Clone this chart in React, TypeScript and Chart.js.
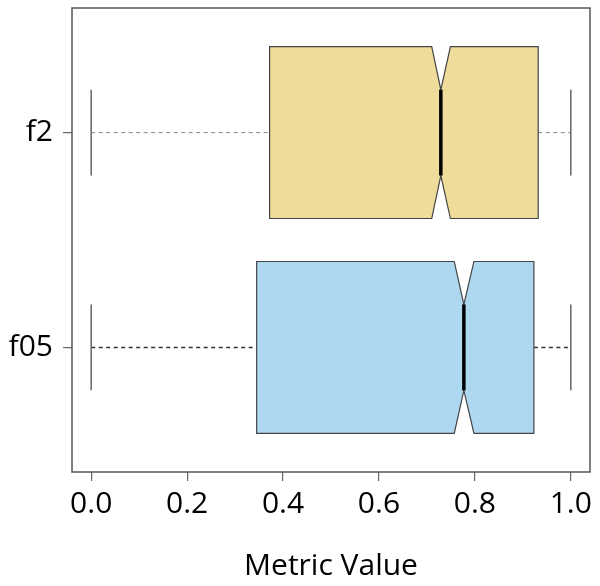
import React, { useEffect, useRef } from "react";
import { Chart, registerables } from "chart.js";

Chart.register(...registerables);

// ---- data ----
const categories = ["f2", "f05"];
const whiskerLow = [0.0, 0.0];
const q1 = [0.372, 0.345];
const notchLow = [0.71, 0.757];
const median = [0.729, 0.777];
const notchHigh = [0.749, 0.798];
const q3 = [0.932, 0.923];
const whiskerHigh = [1.0, 1.0];
const xTicks = [0, 0.2, 0.4, 0.6, 0.8, 1.0];

// ---- style ----
const fills = ["#EFDC9A", "#ADD8F0"];
const whiskerColors = ["#888888", "#333333"];
const FONT = "'Open Sans', 'Liberation Sans', sans-serif";

const catValue = (i: number) => categories.length - i;

const boxPlugin = {
  id: "notchedBoxes",
  afterDatasetsDraw(chart: any) {
    const { ctx, chartArea, scales } = chart;
    const xs = scales.x;
    const ys = scales.y;
    ctx.save();
    categories.forEach((_, i) => {
      const c = catValue(i);
      const yTop = ys.getPixelForValue(c + 0.4);
      const yBot = ys.getPixelForValue(c - 0.4);
      const yMid = ys.getPixelForValue(c);
      const yInTop = ys.getPixelForValue(c + 0.2);
      const yInBot = ys.getPixelForValue(c - 0.2);
      const xq1 = xs.getPixelForValue(q1[i]);
      const xq3 = xs.getPixelForValue(q3[i]);
      const xnl = xs.getPixelForValue(notchLow[i]);
      const xnh = xs.getPixelForValue(notchHigh[i]);
      const xm = xs.getPixelForValue(median[i]);
      const xwl = xs.getPixelForValue(whiskerLow[i]);
      const xwh = xs.getPixelForValue(whiskerHigh[i]);

      // whiskers (dashed)
      ctx.strokeStyle = whiskerColors[i];
      ctx.lineWidth = i === 0 ? 1 : 1.5;
      ctx.setLineDash([4, 3.5]);
      ctx.beginPath();
      ctx.moveTo(xwl, yMid);
      ctx.lineTo(xq1, yMid);
      ctx.moveTo(xq3, yMid);
      ctx.lineTo(xwh, yMid);
      ctx.stroke();
      ctx.setLineDash([]);

      // caps
      ctx.strokeStyle = "#666666";
      ctx.lineWidth = 1.5;
      ctx.beginPath();
      ctx.moveTo(xwl, yInTop);
      ctx.lineTo(xwl, yInBot);
      ctx.moveTo(xwh, yInTop);
      ctx.lineTo(xwh, yInBot);
      ctx.stroke();

      // notched box
      ctx.beginPath();
      ctx.moveTo(xq1, yTop);
      ctx.lineTo(xnl, yTop);
      ctx.lineTo(xm, yInTop);
      ctx.lineTo(xnh, yTop);
      ctx.lineTo(xq3, yTop);
      ctx.lineTo(xq3, yBot);
      ctx.lineTo(xnh, yBot);
      ctx.lineTo(xm, yInBot);
      ctx.lineTo(xnl, yBot);
      ctx.lineTo(xq1, yBot);
      ctx.closePath();
      ctx.fillStyle = fills[i];
      ctx.fill();
      ctx.strokeStyle = "#444444";
      ctx.lineWidth = 1.2;
      ctx.stroke();

      // median
      ctx.strokeStyle = "#000000";
      ctx.lineWidth = 3.5;
      ctx.beginPath();
      ctx.moveTo(xm, yInTop);
      ctx.lineTo(xm, yInBot);
      ctx.stroke();
    });

    // frame
    ctx.strokeStyle = "#555555";
    ctx.lineWidth = 1.5;
    ctx.strokeRect(
      chartArea.left,
      chartArea.top,
      chartArea.right - chartArea.left,
      chartArea.bottom - chartArea.top
    );
    ctx.restore();
  },
};

export default function App() {
  const canvasRef = useRef<HTMLCanvasElement | null>(null);

  useEffect(() => {
    document.body.style.margin = "0";
    const canvas = canvasRef.current;
    if (!canvas) return;
    const chart = new Chart(canvas, {
      type: "scatter",
      data: {
        datasets: [
          {
            data: categories.map((_, i) => ({ x: median[i], y: catValue(i) })),
            pointRadius: 0,
            pointHoverRadius: 0,
          },
        ],
      },
      options: {
        animation: false,
        responsive: false,
        events: [],
        layout: { padding: { left: 0, right: 10, top: 8, bottom: 0 } },
        plugins: { legend: { display: false }, tooltip: { enabled: false } },
        scales: {
          x: {
            type: "linear",
            min: -0.04,
            max: 1.04,
            afterBuildTicks: (axis: any) => {
              axis.ticks = xTicks.map((v) => ({ value: v }));
            },
            afterFit: (axis: any) => {
              axis.height = 114;
            },
            grid: {
              display: true,
              drawOnChartArea: false,
              drawTicks: true,
              tickLength: 9,
              color: "#666666",
              lineWidth: 1.2,
            },
            border: { display: false },
            ticks: {
              padding: 5,
              color: "#000000",
              font: { family: FONT, size: 30 },
              maxRotation: 0,
              autoSkip: false,
              callback: (v: any) => Number(v).toFixed(1),
            },
            title: {
              display: true,
              text: "Metric Value",
              color: "#000000",
              font: { family: FONT, size: 30 },
              padding: { top: 0, bottom: 2 },
            },
          },
          y: {
            type: "linear",
            min: 0.42,
            max: 2.58,
            afterBuildTicks: (axis: any) => {
              axis.ticks = categories.map((_, i) => ({ value: catValue(i) }));
            },
            afterFit: (axis: any) => {
              axis.width = 72;
              axis.paddingTop = 0;
              axis.paddingBottom = 0;
            },
            grid: {
              display: true,
              drawOnChartArea: false,
              drawTicks: true,
              tickLength: 9,
              color: "#666666",
              lineWidth: 1.2,
            },
            border: { display: false },
            ticks: {
              padding: 10,
              color: "#000000",
              font: { family: FONT, size: 30 },
              autoSkip: false,
              callback: (v: any) => {
                const idx = categories.length - Number(v);
                return categories[idx] ?? "";
              },
            },
          },
        },
      },
      plugins: [boxPlugin],
    });
    return () => chart.destroy();
  }, []);

  return (
    <div style={{ width: 600, height: 586, background: "#ffffff" }}>
      <canvas ref={canvasRef} width={600} height={586} style={{ display: "block" }} />
    </div>
  );
}
